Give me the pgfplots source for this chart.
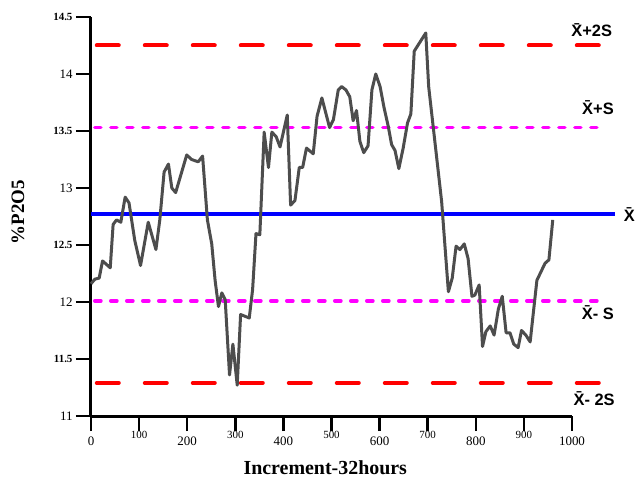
\documentclass[border=0pt]{standalone}
\usepackage{pgfplots}
\pgfplotsset{compat=1.18}
\usepackage{fontspec}
\setmainfont{Liberation Serif}
\newfontfamily\lsans{Liberation Sans}
\definecolor{dataline}{HTML}{4D4D4D}
\definecolor{lmag}{HTML}{FF00FF}
\newcommand\sm[1]{\raisebox{7bp}{\fontsize{11}{11}\selectfont #1}}
\newcommand\bb[1]{{\fontsize{11}{11}\selectfont\bfseries #1}}
\newcommand\lbl{\lsans\bfseries\fontsize{16.5}{18}\selectfont}
\begin{document}
\begin{tikzpicture}
\begin{axis}[
  scale only axis, width=481bp, height=399bp,
  xmin=0, xmax=1000, ymin=11, ymax=14.5,
  axis lines=left,
  axis line style={-, black, line width=3bp},
  tick align=outside,
  major tick length=15bp,
  tick style={black, line width=2.5bp},
  xtick={0,100,...,1000},
  xticklabels={0,\sm{100},200,\sm{300},400,\sm{500},600,\sm{700},800,\sm{900},1000},
  ytick={11,11.5,12,12.5,13,13.5,14,14.5},
  yticklabels={11,\bb{11.5},12,\bb{12.5},13,\bb{13.5},14,\bb{14.5}},
  ticklabel style={font=\fontsize{13}{13}\selectfont},
  xticklabel style={anchor=base, yshift=-14bp},
  xlabel={\textbf{Increment-32hours}},
  ylabel={\textbf{\%P2O5}},
  xlabel style={font=\fontsize{20}{22}\selectfont, at={(axis description cs:0.487,-0.146)}, anchor=base},
  ylabel style={font=\fontsize{19}{21}\selectfont, at={(axis description cs:-0.152,0.511)}, anchor=center},
  clip=false,
]
\addplot[red, line width=4bp, line cap=round, dash pattern=on 22bp off 26bp] coordinates {(12,14.25) (1058,14.25)};
\addplot[red, line width=4bp, line cap=round, dash pattern=on 22bp off 26bp] coordinates {(12,11.29) (1058,11.29)};
\addplot[lmag, line width=3.7bp, line cap=round, dash pattern=on 6bp off 10bp] coordinates {(8,13.53) (1060,13.53)};
\addplot[lmag, line width=3.7bp, line cap=round, dash pattern=on 6bp off 10bp] coordinates {(8,12.01) (1060,12.01)};
\addplot[blue, line width=4.2bp] coordinates {(0,12.77) (1089,12.77)};
\addplot[dataline, line width=3bp, line join=round] coordinates {
(0,12.16) (8,12.20) (17,12.21) (24,12.36) (40,12.30) (46,12.68) (53,12.72) (62,12.70)
(71,12.92) (79,12.87) (91,12.54) (103,12.32) (119,12.70) (135,12.46) (143,12.72) (152,13.14)
(161,13.21) (168,13.00) (176,12.96) (199,13.29) (209,13.25) (223,13.23) (232,13.28) (242,12.72)
(251,12.51) (258,12.19) (265,11.96) (272,12.08) (279,12.02) (288,11.36) (295,11.63) (304,11.27)
(311,11.89) (329,11.86) (336,12.11) (343,12.60) (351,12.59) (360,13.49) (369,13.18) (376,13.49)
(385,13.45) (393,13.36) (408,13.64) (415,12.85) (424,12.89) (433,13.18) (440,13.18) (448,13.35)
(462,13.30) (470,13.63) (480,13.79) (496,13.53) (504,13.60) (514,13.86) (521,13.89) (530,13.86)
(538,13.80) (545,13.59) (552,13.68) (559,13.41) (567,13.31) (576,13.37) (584,13.86) (592,14.00)
(601,13.89) (609,13.71) (618,13.54) (625,13.38) (632,13.33) (640,13.17) (649,13.35) (658,13.57)
(665,13.65) (672,14.20) (696,14.36) (702,13.89) (729,12.88) (743,12.09) (751,12.21) (759,12.49)
(767,12.46) (776,12.51) (784,12.38) (792,12.05) (798,12.06) (807,12.15) (814,11.61) (821,11.74)
(830,11.79) (838,11.71) (847,11.94) (855,12.05) (863,11.73) (871,11.73) (879,11.63) (888,11.60)
(895,11.75) (904,11.71) (913,11.65) (927,12.19) (944,12.34) (952,12.37) (960,12.72)
};
\node[font=\lbl, anchor=base] at (axis cs:1041,14.325) {\={X}+2S};
\node[font=\lbl, anchor=base] at (axis cs:1054,13.649) {\={X}+S};
\node[font=\lbl, anchor=base] at (axis cs:1119,12.71) {\={X}};
\node[font=\lbl, anchor=base] at (axis cs:1054,11.85) {\={X}- S};
\node[font=\lbl, anchor=base] at (axis cs:1046,11.096) {\={X}- 2S};
\end{axis}
\pgfresetboundingbox
\path[use as bounding box] ([xshift=-91bp,yshift=-64bp]current axis.south west) rectangle ([xshift=66bp,yshift=17bp]current axis.north east);
\end{tikzpicture}
\end{document}
